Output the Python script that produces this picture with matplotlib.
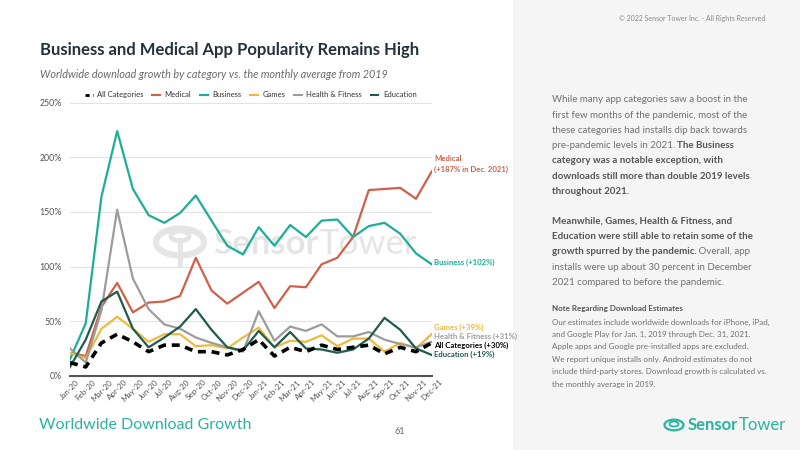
import matplotlib.pyplot as plt
from matplotlib.patches import Rectangle, Circle
from matplotlib.lines import Line2D

plt.rcParams['font.family'] = ['Lato', 'DejaVu Sans']

months = ['Jan-20', 'Feb-20', 'Mar-20', 'Apr-20', 'May-20', 'Jun-20', 'Jul-20', 'Aug-20',
          'Sep-20', 'Oct-20', 'Nov-20', 'Dec-20', 'Jan-21', 'Feb-21', 'Mar-21', 'Apr-21',
          'May-21', 'Jun-21', 'Jul-21', 'Aug-21', 'Sep-21', 'Oct-21', 'Nov-21', 'Dec-21']

all_categories = [12, 8, 30, 38, 31, 22, 28, 28, 22, 22, 19, 24, 33, 18, 26, 22, 28, 24, 26, 28, 20, 26, 22, 30]
medical = [21, 18, 63, 85, 58, 67, 68, 73, 108, 78, 66, 76, 86, 62, 82, 81, 102, 108, 127, 170, 171, 172, 162, 187]
business = [15, 48, 164, 224, 171, 147, 140, 149, 165, 142, 119, 111, 136, 119, 138, 127, 142, 143, 127, 137, 140, 130, 112, 102]
games = [21, 16, 43, 54, 43, 31, 38, 38, 27, 28, 25, 35, 44, 26, 32, 31, 37, 27, 34, 34, 22, 30, 25, 38]
health = [25, 12, 60, 152, 89, 61, 47, 43, 35, 30, 26, 22, 59, 32, 45, 41, 47, 36, 36, 40, 33, 29, 26, 31]
education = [8, 33, 68, 77, 43, 26, 35, 45, 61, 42, 26, 23, 41, 26, 40, 25, 24, 21, 24, 34, 53, 42, 25, 19]

end_labels = ['All Categories (+30%)', 'Medical\n(+187% in Dec. 2021)', 'Business (+102%)',
              'Games (+39%)', 'Health & Fitness (+31%)', 'Education (+19%)']

c_all = '#000000'
c_med = '#d0604a'
c_bus = '#1eae98'
c_gam = '#f0b93e'
c_hea = '#9c9c9c'
c_edu = '#1f5c4e'
c_logo = '#2bb3a0'
c_wm = '#e5e5e5'

fig = plt.figure(figsize=(8, 4.5), dpi=100)
W, H = 800, 450


def fx(x):
    return x / W


def fy(y):
    return 1 - y / H


def follow(prev, txt, where, **kw):
    # put a text right after another one on the same line
    fig.canvas.draw()
    bb = prev.get_window_extent(fig.canvas.get_renderer())
    return where.text(bb.x1 / W, prev.get_position()[1], txt, ha='left', va='center',
                      transform=fig.transFigure, **kw)


# right grey panel
fig.patches.append(Rectangle((fx(513), 0), 1 - fx(513), 1, transform=fig.transFigure,
                             facecolor='#f5f5f5', edgecolor='none', zorder=0))

ax = fig.add_axes([fx(70), fy(375.7), fx(431.7) - fx(70), fy(102.7) - fy(375.7)])
ax.set_facecolor('none')
x = list(range(len(months)))

series = [(all_categories, c_all, 'All Categories'), (medical, c_med, 'Medical'),
          (business, c_bus, 'Business'), (games, c_gam, 'Games'),
          (health, c_hea, 'Health & Fitness'), (education, c_edu, 'Education')]

handles = []
for vals, col, name in series[1:]:
    ax.plot(x, vals, color=col, linewidth=1.6, zorder=3)
ax.plot(x, all_categories, color=c_all, linewidth=2.6, linestyle=(0, (2.2, 1.6)), zorder=4)

for vals, col, name in series:
    if name == 'All Categories':
        handles.append(Line2D([], [], color=col, linewidth=2, linestyle=(0, (1.5, 1.2))))
    else:
        handles.append(Line2D([], [], color=col, linewidth=1.5))
ax.legend(handles, [s[2] for s in series], ncol=6, loc='lower center',
          bbox_to_anchor=(0.5, 1.0), frameon=False, fontsize=5.5, handlelength=1.0,
          columnspacing=1.15, handletextpad=0.6, borderaxespad=0.15, labelcolor='#333333')

ax.set_xlim(0, 23)
ax.set_ylim(0, 250)
ax.set_yticks([0, 50, 100, 150, 200, 250])
ax.set_yticklabels(['0%', '50%', '100%', '150%', '200%', '250%'])
ax.set_xticks(x)
ax.set_xticklabels(months, rotation=45)
ax.tick_params(axis='y', length=0, labelsize=6.3, labelcolor='#555555', pad=6)
ax.tick_params(axis='x', length=0, labelsize=5.8, labelcolor='#555555', pad=2)
ax.grid(axis='y', color='#e3e3e3', linewidth=0.8)
ax.set_axisbelow(True)
for s in ['top', 'right', 'left']:
    ax.spines[s].set_visible(False)
ax.spines['bottom'].set_color('#555555')
ax.spines['bottom'].set_linewidth(1.5)

# watermark behind the lines
ax.add_patch(Circle((fx(180), fy(242)), 24 / W, transform=fig.transFigure, fill=False,
                    edgecolor=c_wm, linewidth=4.5, zorder=0.5, clip_on=False))
ax.add_patch(Circle((fx(180), fy(236)), 9 / W, transform=fig.transFigure, fill=False,
                    edgecolor=c_wm, linewidth=3.5, zorder=0.5, clip_on=False))
ax.add_line(Line2D([fx(180), fx(180)], [fy(240), fy(264)], transform=fig.transFigure,
                   color=c_wm, linewidth=3.5, zorder=0.5, clip_on=False))
wm = ax.text(fx(213), fy(244), 'Sensor', fontsize=25, fontweight='bold', color=c_wm,
             ha='left', va='center', zorder=0.5, transform=fig.transFigure)
follow(wm, 'Tower', ax, fontsize=25, color=c_wm, zorder=0.5)

# end labels
lab_y = [345, 164, 262, 327, 336, 354]
for (vals, col, name), lab, yy in zip(series, end_labels, lab_y):
    fig.text(fx(434), fy(yy), lab, color=col, fontsize=5.6, fontweight='bold',
             ha='left', va='center', linespacing=1.5)

# titles
fig.text(fx(40), fy(50), 'Business and Medical App Popularity Remains High', fontsize=12,
         fontweight='bold', color='#25323a', ha='left', va='center')
fig.text(fx(40), fy(74), 'Worldwide download growth by category vs. the monthly average from 2019',
         fontsize=7.8, fontstyle='italic', color='#6a6a6a', ha='left', va='center')
fig.text(fx(39), fy(425), 'Worldwide Download Growth', fontsize=11.5, color=c_logo,
         ha='left', va='center')
fig.text(fx(400), fy(432), '61', fontsize=6.5, color='#666666', ha='center', va='center')
fig.text(fx(765), fy(18), '\u00a9 2022 Sensor Tower Inc. - All Rights Reserved', fontsize=5,
         color='#8a8a8a', ha='right', va='center')

# right panel text
para = [
    [('While many app categories saw a boost in the', 'normal')],
    [('first few months of the pandemic, most of the', 'normal')],
    [('these categories had installs dip back towards', 'normal')],
    [('pre-pandemic levels in 2021. ', 'normal'), ('The Business', 'bold')],
    [('category was a notable exception, with', 'bold')],
    [('downloads still more than double 2019 levels', 'bold')],
    [('throughout 2021.', 'bold')],
    [],
    [('Meanwhile, Games, Health & Fitness, and', 'bold')],
    [('Education were still able to retain some of the', 'bold')],
    [('growth spurred by the pandemic.', 'bold'), (' Overall, app', 'normal')],
    [('installs were up about 30 percent in December', 'normal')],
    [('2021 compared to before the pandemic.', 'normal')],
]
y0 = 100
for i, parts in enumerate(para):
    prev = None
    for txt, wt in parts:
        col = '#555555' if wt == 'bold' else '#707070'
        if prev is None:
            prev = fig.text(fx(551.5), fy(y0 + i * 15.2), txt, fontsize=7.0, fontweight=wt,
                            color=col, ha='left', va='center')
        else:
            prev = follow(prev, txt, fig, fontsize=7.0, fontweight=wt, color=col)

note = ['Our estimates include worldwide downloads for iPhone, iPad,',
        'and Google Play for Jan. 1, 2019 through Dec. 31, 2021.',
        'Apple apps and Google pre-installed apps are excluded.',
        'We report unique installs only. Android estimates do not',
        'include third-party stores. Download growth is calculated vs.',
        'the monthly average in 2019.']
fig.text(fx(551.5), fy(309), 'Note Regarding Download Estimates', fontsize=5.8,
         fontweight='bold', color='#555555', ha='left', va='center')
for i, line in enumerate(note):
    fig.text(fx(551.5), fy(322 + i * 12.4), line, fontsize=5.8, color='#707070',
             ha='left', va='center')

# logo bottom right
fig.patches.append(Circle((fx(674), fy(425)), 9.5 / W, transform=fig.transFigure, fill=False,
                          edgecolor=c_logo, linewidth=1.6, zorder=2))
fig.patches.append(Circle((fx(674), fy(424)), 4.5 / W, transform=fig.transFigure, fill=False,
                          edgecolor=c_logo, linewidth=1.3, zorder=2))
t1 = fig.text(fx(688), fy(425), 'Sensor', fontsize=12, fontweight='bold', color=c_logo,
              ha='left', va='center')
follow(t1, 'Tower', fig, fontsize=12, color=c_logo)

fig.savefig('out.png', dpi=100)
